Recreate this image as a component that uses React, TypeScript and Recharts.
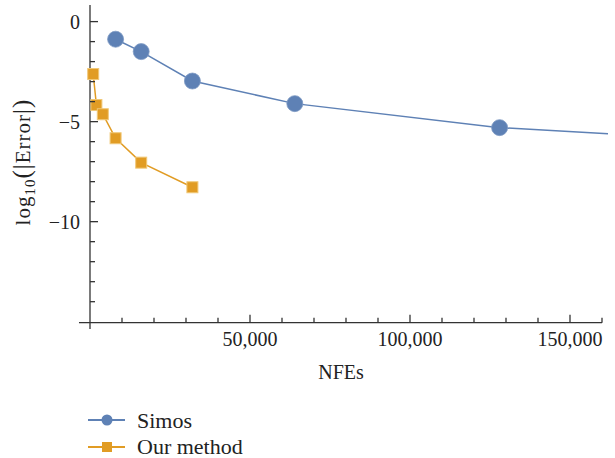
import { LineChart, Line, XAxis, YAxis, ReferenceLine, Label } from "recharts"

// Simos: marked points, plus the unmarked end of its curve at the right edge
const simosNfe = [8000, 16000, 32000, 64000, 128000]
const simosErr = [-0.88, -1.5, -2.97, -4.1, -5.3]
const simosTailNfe = 161875
const simosTailErr = -5.6

const oursNfe = [1000, 2000, 4000, 8000, 16000, 32000]
const oursErr = [-2.62, -4.17, -4.63, -5.83, -7.05, -8.28]

const xTicks = [10000, 20000, 30000, 40000, 50000, 60000, 70000, 80000, 90000, 100000, 110000, 120000, 130000, 140000, 150000, 160000]
const xMajor = [50000, 100000, 150000]
const yTicks = [-14, -13, -12, -11, -10, -9, -8, -7, -6, -5, -4, -3, -2, -1, 0]
const yMajor = [0, -5, -10]

const BLUE = "#5E81B5"
const ORANGE = "#E19C24"
const INK = "#222"
const AXIS = "#333"
const FONT = "'Liberation Serif', 'DejaVu Serif', serif"

const simosData = [
  ...simosNfe.map((nfe, i) => ({ nfe, err: simosErr[i] })),
  { nfe: simosTailNfe, err: simosTailErr },
]
const oursData = oursNfe.map((nfe, i) => ({ nfe, err: oursErr[i] }))

const fmtY = (v: number) => (v < 0 ? "\u2212" + Math.abs(v) : String(v))

function XTick({ x, y, payload }: any) {
  const major = xMajor.includes(payload.value)
  return (
    <g>
      <line x1={x} x2={x} y1={y} y2={y - (major ? 8 : 5)} stroke={AXIS} strokeWidth={1.3} />
      {major && (
        <text x={x} y={y + 23} textAnchor="middle" fill={INK} fontSize={20} fontFamily={FONT}>
          {payload.value.toLocaleString("en-US")}
        </text>
      )}
    </g>
  )
}

function YTick({ x, y, payload }: any) {
  const major = yMajor.includes(payload.value)
  return (
    <g>
      <line x1={x} x2={x + (major ? 8 : 5)} y1={y} y2={y} stroke={AXIS} strokeWidth={1.3} />
      {major && (
        <text x={x - 10} y={y} dy="0.35em" textAnchor="end" fill={INK} fontSize={20} fontFamily={FONT}>
          {fmtY(payload.value)}
        </text>
      )}
    </g>
  )
}

function CircleDot(props: any) {
  const { cx, cy, index } = props
  if (index >= simosNfe.length) return <g key={index} />
  return <circle key={index} cx={cx} cy={cy} r={8} fill={BLUE} stroke="#7F9AC4" strokeWidth={0.8} />
}

function SquareDot(props: any) {
  const { cx, cy, index } = props
  return <rect key={index} x={cx - 5.5} y={cy - 5.5} width={11} height={11} fill={ORANGE} stroke="#F0C878" strokeWidth={1} />
}

function Legend() {
  return (
    <svg width={300} height={56} style={{ position: "absolute", left: 0, top: 400, overflow: "visible" }}>
      <line x1={88} x2={125} y1={20} y2={20} stroke={BLUE} strokeWidth={1.8} />
      <circle cx={107} cy={20} r={5.5} fill={BLUE} />
      <text x={137} y={20} dy="0.35em" fontSize={22} fontFamily={FONT} fill={INK}>Simos</text>
      <line x1={88} x2={125} y1={47} y2={47} stroke={ORANGE} strokeWidth={1.8} />
      <rect x={102} y={42} width={10} height={10} fill={ORANGE} />
      <text x={137} y={46} dy="0.35em" fontSize={22} fontFamily={FONT} fill={INK}>Our method</text>
    </svg>
  )
}

export default function App() {
  return (
    <div style={{ position: "absolute", left: 0, top: 0, width: 615, height: 458, background: "#fff" }}>
      <LineChart width={615} height={458} margin={{ top: 5, right: 7, left: 50, bottom: 105.3 }}>
        <XAxis
          type="number"
          dataKey="nfe"
          domain={[0, simosTailNfe]}
          ticks={xTicks}
          interval={0}
          axisLine={false}
          tickLine={false}
          tickSize={0}
          tickMargin={0}
          height={30}
          tick={<XTick />}
        >
          <Label
            content={() => (
              <text x={341} y={379} textAnchor="middle" fontSize={20} fontFamily={FONT} fill={INK}>
                NFEs
              </text>
            )}
          />
        </XAxis>
        <YAxis
          type="number"
          domain={[-15.05, 0.83]}
          ticks={yTicks}
          interval={0}
          axisLine={false}
          tickLine={false}
          tickSize={0}
          tickMargin={0}
          width={40}
          tick={<YTick />}
        >
          <Label
            content={() => (
              <text
                transform="rotate(-90)"
                x={-162}
                y={30}
                textAnchor="middle"
                fontSize={21}
                letterSpacing={1}
                fontFamily={FONT}
                fill={INK}
              >
                log
                <tspan dy={5} fontSize={15}>10</tspan>
                <tspan dy={-5} fontSize={25}>(|</tspan>
                <tspan>Error</tspan>
                <tspan fontSize={25}>|)</tspan>
              </text>
            )}
          />
        </YAxis>
        <ReferenceLine
          segment={[{ x: -3440, y: -15.05 }, { x: 160000, y: -15.05 }]}
          stroke={AXIS}
          strokeWidth={1.3}
          ifOverflow="visible"
        />
        <ReferenceLine
          segment={[{ x: 0, y: -15.37 }, { x: 0, y: 0.83 }]}
          stroke={AXIS}
          strokeWidth={1.3}
          ifOverflow="visible"
        />
        <Line
          data={simosData}
          dataKey="err"
          type="linear"
          stroke={BLUE}
          strokeWidth={1.5}
          dot={CircleDot}
          activeDot={false}
          isAnimationActive={false}
        />
        <Line
          data={oursData}
          dataKey="err"
          type="linear"
          stroke={ORANGE}
          strokeWidth={1.5}
          dot={SquareDot}
          activeDot={false}
          isAnimationActive={false}
        />
      </LineChart>
      <Legend />
    </div>
  )
}
